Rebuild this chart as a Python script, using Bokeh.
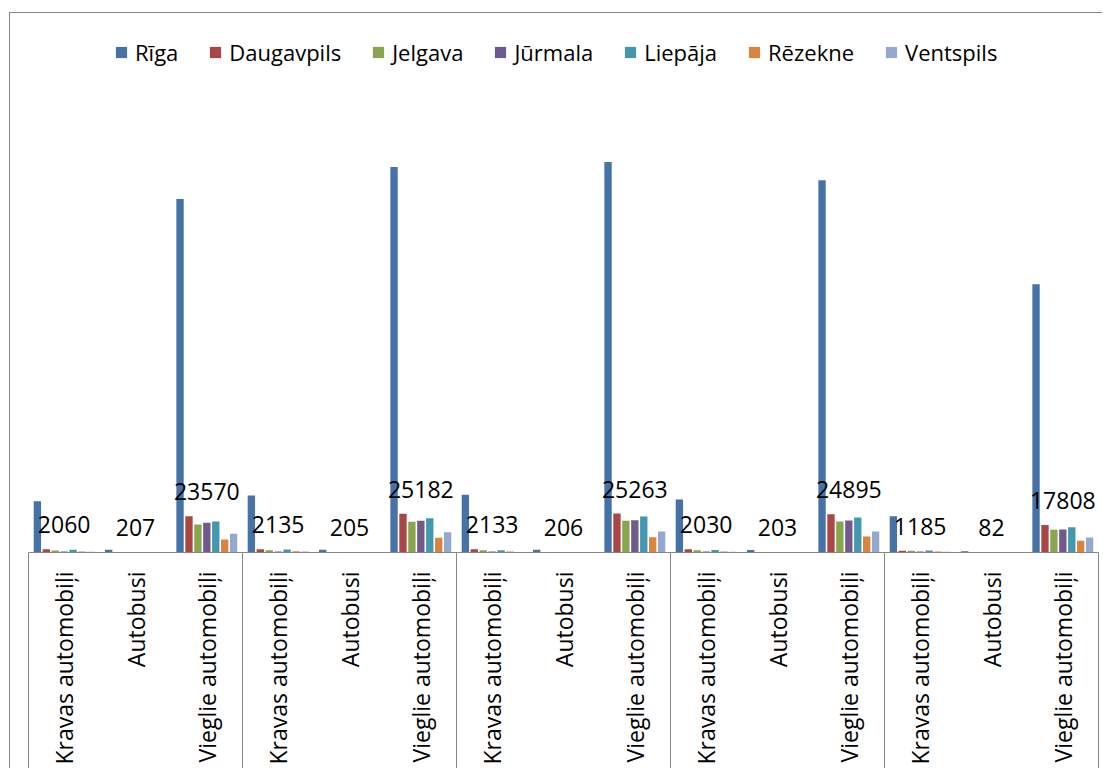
import math
from bokeh.plotting import figure
from bokeh.models import (ColumnDataSource, Range1d, LinearAxis, FixedTicker,
                          Legend, LegendItem, LabelSet)
from bokeh.transform import dodge
from bokeh.core.properties import value
from bokeh.embed import file_html
from bokeh.resources import INLINE

# ---------------- data ----------------
categories = ["Kravas automobiļi", "Autobusi", "Vieglie automobiļi"] * 5
cities = ["Rīga", "Daugavpils", "Jelgava", "Jūrmala", "Liepāja", "Rēzekne", "Ventspils"]
colors = ["#4572A7", "#AA4643", "#89A54E", "#71588F", "#4198AF", "#DB843D", "#93A9CF"]

riga       = [33300, 1750, 229500, 37050, 1750, 250300, 37500, 1750, 253500, 34450, 1700, 241800, 23600, 850, 174200]
daugavpils = [2060, 207, 23570, 2135, 205, 25182, 2133, 206, 25263, 2030, 203, 24895, 1185, 82, 17808]
jelgava    = [1350, 150, 18200, 1500, 150, 19950, 1500, 150, 20600, 1400, 150, 20150, 1100, 60, 14750]
jurmala    = [700, 100, 19300, 650, 100, 20600, 650, 100, 21000, 650, 100, 20800, 650, 50, 14950]
liepaja    = [1800, 150, 20150, 1950, 150, 22300, 1500, 150, 23400, 1600, 150, 22750, 1300, 60, 16450]
rezekne    = [650, 80, 8450, 850, 80, 9550, 650, 80, 9950, 700, 80, 10400, 650, 40, 7600]
ventspils  = [550, 90, 12150, 650, 90, 13200, 400, 90, 13650, 450, 90, 13650, 500, 40, 9750]

series = [riga, daugavpils, jelgava, jurmala, liepaja, rezekne, ventspils]
group_size = 3
label_values = daugavpils  # data labels shown on the chart

# ---------------- build ----------------
idx = list(range(len(categories)))
data = dict(x=idx, lbl=[str(v) for v in label_values], lbly=label_values)
for i, s in enumerate(series):
    data["s%d" % i] = s
source = ColumnDataSource(data)

GRAY = "#868686"
FONT = "Open Sans"

H = 756
BOTTOM = 217
p = figure(width=1093, height=H, output_backend="svg", toolbar_location=None,
           x_axis_type=None, y_axis_type=None,
           x_range=Range1d(-0.5, len(categories) - 0.5),
           y_range=Range1d(0, 350000),
           min_border_left=18, min_border_right=5, min_border_top=0, min_border_bottom=BOTTOM,
           background_fill_color="white", border_fill_color="white",
           styles={"position": "relative", "top": "12px", "left": "9px",
                   "border-left": "1px solid " + GRAY, "border-top": "1px solid " + GRAY})
p.outline_line_color = None

step = 0.1252
bar_w = 0.103
n = len(series)
renderers = []
for i in range(n):
    r = p.vbar(x=dodge("x", (i - (n - 1) / 2) * step, range=p.x_range), top="s%d" % i,
               width=bar_w, source=source, fill_color=colors[i], line_color=None)
    renderers.append(r)

labels = LabelSet(x="x", y="lbly", text="lbl", source=source, y_offset=16,
                  text_align="center", text_baseline="alphabetic",
                  text_font=value(FONT), text_font_size="23px", text_color="black")
p.add_layout(labels)

sep_len = BOTTOM
bounds = [g * group_size - 0.5 for g in range(len(categories) // group_size + 1)]
xaxis = LinearAxis(ticker=FixedTicker(ticks=idx, minor_ticks=bounds),
                   major_label_overrides={i: c for i, c in enumerate(categories)},
                   major_label_orientation=math.pi / 2)
xaxis.axis_line_color = GRAY
xaxis.axis_line_width = 1
xaxis.major_tick_line_color = None
xaxis.major_tick_out = 0
xaxis.major_tick_in = 0
xaxis.minor_tick_line_color = GRAY
xaxis.minor_tick_out = sep_len
xaxis.minor_tick_in = 0
xaxis.major_label_standoff = 19 - sep_len
xaxis.major_label_text_font = FONT
xaxis.major_label_text_font_size = "23px"
xaxis.major_label_text_color = "black"
p.add_layout(xaxis, "below")

legend = Legend(items=[LegendItem(label=c, renderers=[r]) for c, r in zip(cities, renderers)],
                orientation="horizontal", location=(86, 485))
legend.border_line_color = None
legend.background_fill_alpha = 0
legend.padding = 0
legend.margin = 0
legend.glyph_width = 14
legend.glyph_height = 14
legend.label_standoff = 7
legend.spacing = 30
legend.label_text_font = FONT
legend.label_text_font_size = "22px"
legend.label_text_color = "black"
p.add_layout(legend)

open("out.html", "w", encoding="utf-8").write(file_html(p, INLINE, "chart"))
